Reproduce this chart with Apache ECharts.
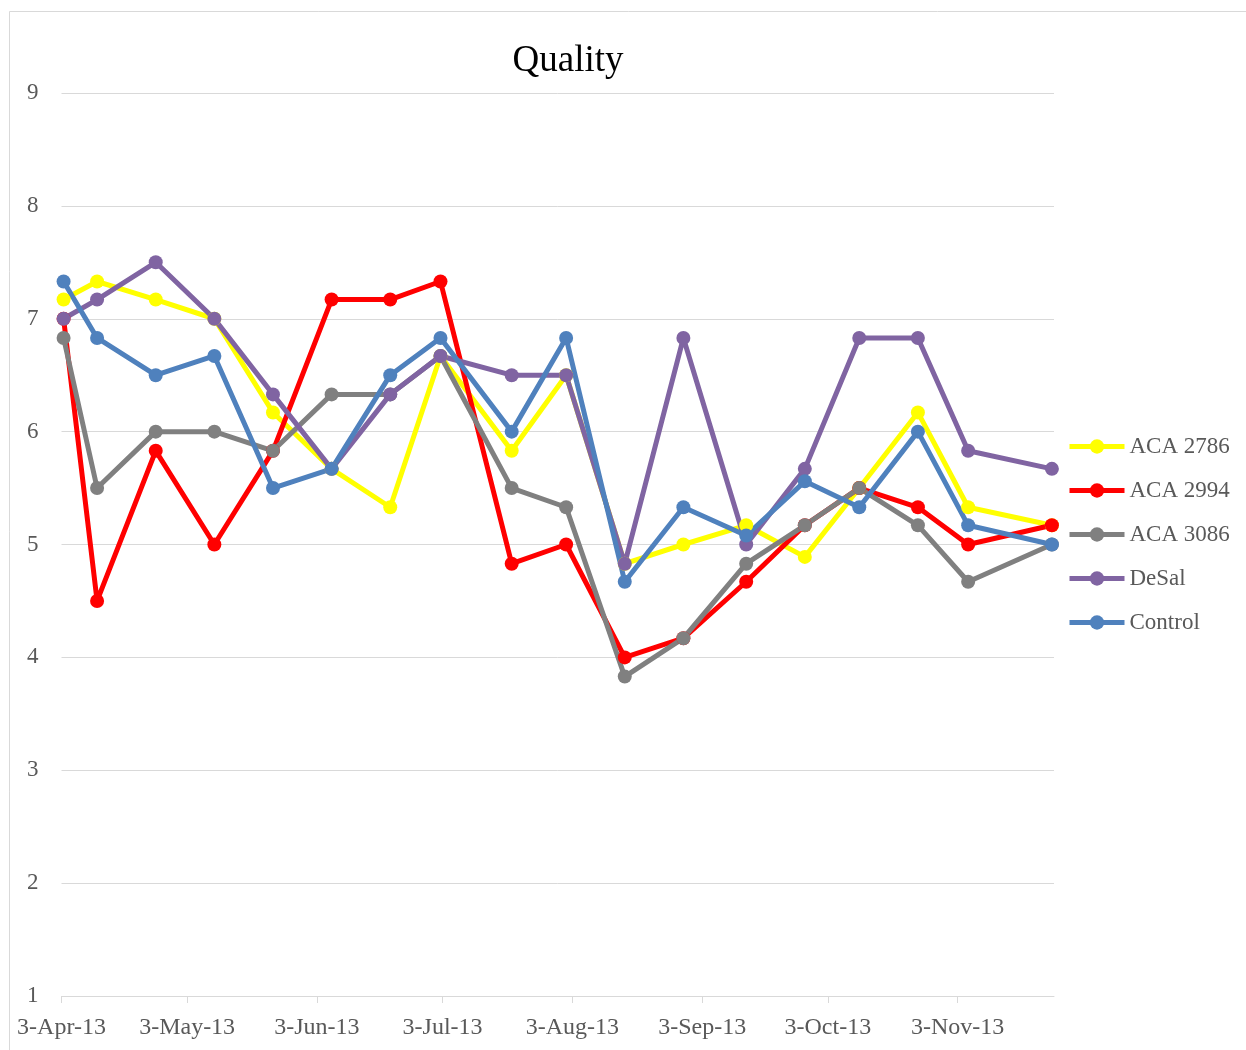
<!DOCTYPE html>
<html>
<head>
<meta charset="utf-8">
<script src="https://cdn.jsdelivr.net/npm/echarts@6/dist/echarts.min.js"></script>
<style>
  html, body { margin: 0; padding: 0; background: #ffffff; }
  #chart { width: 1246px; height: 1050px; }
</style>
</head>
<body>
<div id="chart"></div>
<script>
// ---- data ----
const dates = ['2013-04-03','2013-04-11','2013-04-25','2013-05-09','2013-05-23','2013-06-06','2013-06-20','2013-07-02','2013-07-19','2013-08-01','2013-08-15','2013-08-29','2013-09-13','2013-09-27','2013-10-10','2013-10-24','2013-11-05','2013-11-25'];
const seriesNames = ['ACA 2786', 'ACA 2994', 'ACA 3086', 'DeSal', 'Control'];
const aca2786 = [7.17, 7.33, 7.17, 7.00, 6.17, 5.67, 5.33, 6.67, 5.83, 6.50, 4.83, 5.00, 5.17, 4.89, 5.50, 6.17, 5.33, 5.17];
const aca2994 = [7.00, 4.50, 5.83, 5.00, 5.83, 7.17, 7.17, 7.33, 4.83, 5.00, 4.00, 4.17, 4.67, 5.17, 5.50, 5.33, 5.00, 5.17];
const aca3086 = [6.83, 5.50, 6.00, 6.00, 5.83, 6.33, 6.33, 6.67, 5.50, 5.33, 3.83, 4.17, 4.83, 5.17, 5.50, 5.17, 4.67, 5.00];
const desal   = [7.00, 7.17, 7.50, 7.00, 6.33, 5.67, 6.33, 6.67, 6.50, 6.50, 4.83, 6.83, 5.00, 5.67, 6.83, 6.83, 5.83, 5.67];
const control = [7.33, 6.83, 6.50, 6.67, 5.50, 5.67, 6.50, 6.83, 6.00, 6.83, 4.67, 5.33, 5.08, 5.56, 5.33, 6.00, 5.17, 5.00];
const tickDates = ['2013-04-03','2013-05-03','2013-06-03','2013-07-03','2013-08-03','2013-09-03','2013-10-03','2013-11-03'];
const axisStart = '2013-04-03';
const axisEnd = '2013-11-26';
const yTicks = [1, 2, 3, 4, 5, 6, 7, 8, 9];

// ---- helpers ----
const MONTHS = ['Jan','Feb','Mar','Apr','May','Jun','Jul','Aug','Sep','Oct','Nov','Dec'];
function toTime(s) { const p = s.split('-').map(Number); return new Date(p[0], p[1] - 1, p[2]).getTime(); }
const HALF_DAY = 12 * 3600 * 1000; // points sit in the middle of their day slot (Excel date axis)
function fmt(v) { const d = new Date(v); return d.getDate() + '-' + MONTHS[d.getMonth()] + '-' + String(d.getFullYear()).slice(2); }

const colors = ['#FFFF00', '#FF0000', '#808080', '#8064A2', '#4F81BD'];
const values = [aca2786, aca2994, aca3086, desal, control];
const FONT = '"Liberation Serif", "DejaVu Serif", serif';

const chart = echarts.init(document.getElementById('chart'), null, { renderer: 'canvas' });
chart.setOption({
  animation: false,
  backgroundColor: '#ffffff',
  color: colors,
  graphic: [{
    type: 'rect', silent: true, z: -10,
    shape: { x: 9.5, y: 11.5, width: 1300, height: 1100 },
    style: { fill: 'none', stroke: '#d9d9d9', lineWidth: 1 }
  }],
  title: {
    text: 'Quality',
    left: 568, top: 43, textAlign: 'center', padding: 0,
    textStyle: { fontFamily: FONT, fontSize: 37, fontWeight: 'normal', color: '#000000' }
  },
  legend: {
    orient: 'vertical',
    left: 1067, top: 435, padding: 0,
    itemWidth: 55, itemHeight: 18, itemGap: 21,
    data: seriesNames,
    lineStyle: { width: 5 },
    textStyle: { fontFamily: FONT, fontSize: 23, color: '#595959' }
  },
  grid: { left: 61.5, right: 192, top: 93, bottom: 54 },
  xAxis: {
    type: 'value',
    min: toTime(axisStart), max: toTime(axisEnd),
    axisLine: { show: true, lineStyle: { color: '#d9d9d9', width: 1 } },
    axisTick: { show: true, length: 7, lineStyle: { color: '#d9d9d9', width: 1 }, customValues: tickDates.map(toTime) },
    axisLabel: { customValues: tickDates.map(toTime), formatter: fmt, margin: 20, fontFamily: FONT, fontSize: 24, color: '#595959', hideOverlap: false },
    splitLine: { show: false }
  },
  yAxis: {
    type: 'value', min: yTicks[0], max: yTicks[yTicks.length - 1], interval: 1,
    axisLine: { show: false }, axisTick: { show: false },
    axisLabel: { margin: 23, fontFamily: FONT, fontSize: 23, color: '#595959' },
    splitLine: { show: true, lineStyle: { color: '#d9d9d9', width: 1 } }
  },
  series: seriesNames.map((name, i) => ({
    name: name,
    type: 'line',
    data: dates.map((d, j) => [toTime(d) + HALF_DAY, values[i][j]]),
    symbol: 'circle', symbolSize: 14, showSymbol: true,
    lineStyle: { width: 5, color: colors[i] },
    itemStyle: { color: colors[i] },
    emphasis: { disabled: true }
  }))
});
</script>
</body>
</html>
